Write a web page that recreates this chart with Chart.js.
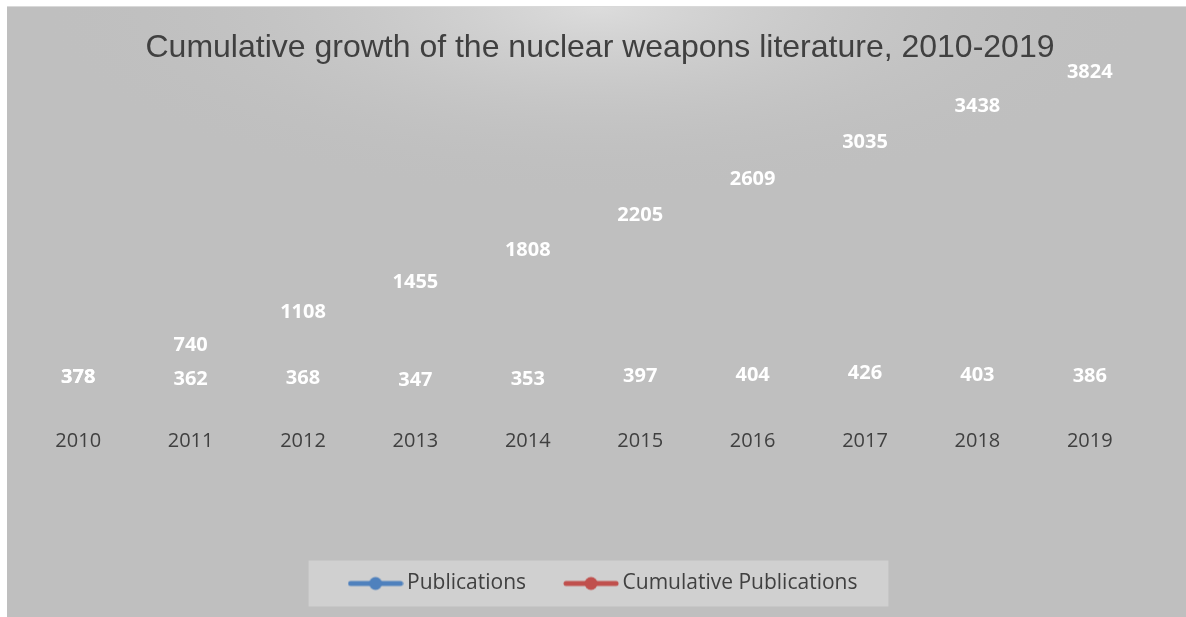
<!DOCTYPE html>
<html>
<head>
<meta charset="utf-8">
<script src="https://cdn.jsdelivr.net/npm/chart.js@4.4.1/dist/chart.umd.min.js"></script>
<style>
html,body{margin:0;padding:0;background:#fff}
#wrap{width:1186px;height:617px}
</style>
</head>
<body>
<div id="wrap"><canvas id="chart" width="1186" height="617"></canvas></div>
<script>
const years=["2010","2011","2012","2013","2014","2015","2016","2017","2018","2019"]
const publications=[378,362,368,347,353,397,404,426,403,386]
const cumulative=[378,740,1108,1455,1808,2205,2609,3035,3438,3824]
const seriesNames=["Publications","Cumulative Publications"]
const seriesColors=["#4F81BD","#C0504D"]
const titleText="Cumulative growth of the nuclear weapons literature, 2010-2019"

// legend marker: line with a dot in the middle
function legendMarker(color){
const c=document.createElement("canvas")
c.width=56
c.height=16
const g=c.getContext("2d")
g.strokeStyle=color
g.lineWidth=5
g.lineCap="round"
g.beginPath()
g.moveTo(3,8)
g.lineTo(53,8)
g.stroke()
g.fillStyle=color
g.beginPath()
g.arc(28,8,6.5,0,Math.PI*2)
g.fill()
return c
}

const markers=seriesColors.map(legendMarker)

const bgPlugin={
id:"bg",
afterLayout(chart){
// nudge the legend a little right, like the original
chart.legend.left+=6
chart.legend.right+=6
},
beforeDraw(chart){
const ctx=chart.ctx
const w=chart.width
const h=chart.height
ctx.save()
ctx.fillStyle="#fff"
ctx.fillRect(0,0,w,h)
ctx.fillStyle="#d9d9d9"
ctx.fillRect(7,6,w-7,1)
ctx.fillStyle="#bfbfbf"
ctx.fillRect(7,7,w-7,h-7)
ctx.beginPath()
ctx.rect(7,7,w-7,h-7)
ctx.clip()
ctx.translate(598,7)
ctx.scale(1,0.34)
const gr=ctx.createRadialGradient(0,0,0,0,0,560)
gr.addColorStop(0,"rgba(220,220,220,1)")
gr.addColorStop(1,"rgba(191,191,191,0)")
ctx.fillStyle=gr
ctx.fillRect(-620,0,1240,1800)
ctx.restore()

const hb=chart.legend.legendHitBoxes
if(hb&&hb.length){
const first=hb[0]
const last=hb[hb.length-1]
const cy=first.top+first.height/2
ctx.save()
ctx.fillStyle="#d0d0d0"
ctx.fillRect(first.left-46,cy-23,last.left+last.width+31-(first.left-46),46)
ctx.restore()
}
}
}

const labelPlugin={
id:"valueLabels",
afterDatasetsDraw(chart){
const ctx=chart.ctx
ctx.save()
ctx.font="bold 20px 'Open Sans'"
ctx.fillStyle="#fff"
ctx.textAlign="center"
ctx.textBaseline="middle"
chart.data.datasets.forEach((ds,i)=>{
const meta=chart.getDatasetMeta(i)
meta.data.forEach((pt,j)=>{
ctx.fillText(String(ds.data[j]),pt.x,pt.y-14)
})
})
ctx.restore()
}
}

new Chart(document.getElementById("chart"),{
type:"line",
data:{
labels:years,
datasets:[
{label:seriesNames[0],data:publications,borderColor:seriesColors[0],backgroundColor:seriesColors[0],showLine:false,pointRadius:0},
{label:seriesNames[1],data:cumulative,borderColor:seriesColors[1],backgroundColor:seriesColors[1],showLine:false,pointRadius:0}
]
},
options:{
responsive:false,
animation:false,
devicePixelRatio:1,
layout:{padding:{left:22,right:8,top:0,bottom:13}},
plugins:{
title:{
display:true,
text:titleText,
color:"#404040",
font:{family:"'Liberation Sans', Arial, sans-serif",size:32,weight:"normal"},
padding:{top:29,bottom:3}
},
legend:{
position:"bottom",
labels:{
usePointStyle:true,
pointStyleWidth:42,
padding:44,
color:"#404040",
font:{family:"'Open Sans'",size:21},
generateLabels(chart){
return chart.data.datasets.map((ds,i)=>({
text:ds.label,
pointStyle:markers[i],
fillStyle:seriesColors[i],
strokeStyle:seriesColors[i],
lineWidth:0,
fontColor:"#404040",
datasetIndex:i,
hidden:false
}))
}
}
},
tooltip:{enabled:false}
},
scales:{
x:{
offset:true,
grid:{display:false,drawTicks:false},
border:{display:false},
ticks:{color:"#404040",font:{family:"'Open Sans'",size:20},padding:4},
afterFit(s){s.height=104}
},
y:{
position:"right",
min:0,
max:4000,
grid:{display:false},
border:{display:false},
ticks:{display:false},
afterFit(s){s.width=32}
}
}
},
plugins:[bgPlugin,labelPlugin]
})
</script>
</body>
</html>
